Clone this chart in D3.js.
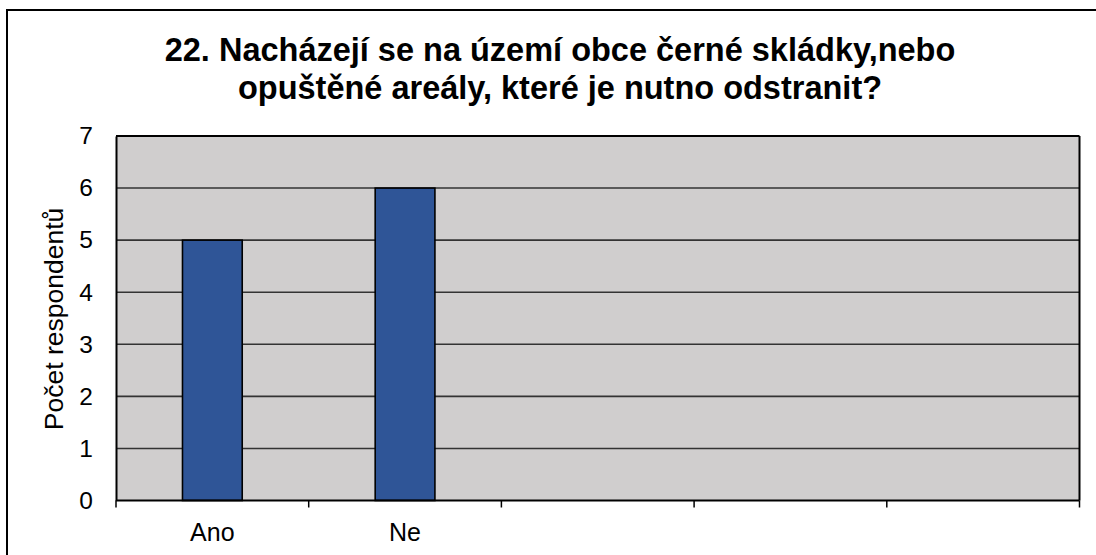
<!DOCTYPE html>
<html>
<head>
<meta charset="utf-8">
<script src="https://cdn.jsdelivr.net/npm/d3@7"></script>
<style>
  html, body { margin: 0; padding: 0; background: #fff; }
  svg { display: block; }
  text { font-family: "Liberation Sans", Arial, sans-serif; fill: #000; }
</style>
</head>
<body>
<svg id="chart" width="1096" height="555"></svg>
<script>
const categories = ["Ano", "Ne", "", "", ""];
const values = [5, 6, null, null, null];
const yTicks = [0, 1, 2, 3, 4, 5, 6, 7];
const titleLines = ["22. Nacházejí se na území obce černé skládky,nebo", "opuštěné areály, které je nutno odstranit?"];
const yTitle = "Počet respondentů";

const svg = d3.select("#chart");
const W = 1096, H = 555;
const m = { left: 116, right: 1079.5, top: 136, bottom: 500.5 };

// outer border
svg.append("rect").attr("x", 7).attr("y", 10).attr("width", W).attr("height", H)
  .attr("fill", "none").attr("stroke", "#000").attr("stroke-width", 2);

const x = d3.scaleBand().domain(d3.range(categories.length)).range([m.left, m.right]).paddingInner(0).paddingOuter(0);
const y = d3.scaleLinear().domain([0, 7]).range([m.bottom, m.top]);

// plot background
svg.append("rect").attr("x", m.left).attr("y", m.top)
  .attr("width", m.right - m.left).attr("height", m.bottom - m.top)
  .attr("fill", "#d0cece");

// gridlines
svg.append("g").selectAll("line").data(yTicks.filter(d => d > 0 && d < 7)).join("line")
  .attr("x1", m.left).attr("x2", m.right)
  .attr("y1", d => y(d)).attr("y2", d => y(d))
  .attr("stroke", "#333").attr("stroke-width", 1.6);

// bars
const bw = x.bandwidth() * 0.31;
svg.append("g").selectAll("rect").data(values.map((v, i) => ({ v, i })).filter(d => d.v != null)).join("rect")
  .attr("x", d => x(d.i) + x.bandwidth() / 2 - bw / 2)
  .attr("y", d => y(d.v))
  .attr("width", bw)
  .attr("height", d => y(0) - y(d.v))
  .attr("fill", "#2f5597").attr("stroke", "#000").attr("stroke-width", 1.6);

// plot border top & right
svg.append("line").attr("x1", m.left).attr("x2", m.right).attr("y1", m.top).attr("y2", m.top)
  .attr("stroke", "#000").attr("stroke-width", 2);
svg.append("line").attr("x1", m.right).attr("x2", m.right).attr("y1", m.top).attr("y2", m.bottom)
  .attr("stroke", "#000").attr("stroke-width", 2);

// y axis
const yAxis = d3.axisLeft(y).tickValues(yTicks).tickSize(0).tickPadding(23).tickFormat(d3.format("d"));
const gy = svg.append("g").attr("transform", `translate(${m.left},0)`).call(yAxis);
gy.select(".domain").attr("stroke", "#000").attr("stroke-width", 2);
gy.selectAll("text").attr("font-size", 24.5).attr("font-family", "Liberation Sans, Arial, sans-serif");

// x axis
const bounds = d3.range(categories.length + 1).map(i => m.left + i * x.bandwidth());
const gx = svg.append("g");
gx.append("line").attr("x1", m.left).attr("x2", m.right).attr("y1", m.bottom).attr("y2", m.bottom)
  .attr("stroke", "#000").attr("stroke-width", 2);
gx.selectAll("line.tick").data(bounds).join("line").attr("class", "tick")
  .attr("x1", d => d).attr("x2", d => d).attr("y1", m.bottom).attr("y2", m.bottom + 7)
  .attr("stroke", "#000").attr("stroke-width", 1.5);
gx.selectAll("text").data(categories.map((c, i) => ({ c, i })).filter(d => d.c)).join("text")
  .attr("x", d => x(d.i) + x.bandwidth() / 2).attr("y", 541)
  .attr("text-anchor", "middle").attr("font-size", 25).text(d => d.c);

// y title
svg.append("text").attr("transform", `translate(63,319) rotate(-90)`)
  .attr("text-anchor", "middle").attr("font-size", 26.5).text(yTitle);

// title
svg.append("g").selectAll("text").data(titleLines).join("text")
  .attr("x", 560).attr("y", (d, i) => 61 + i * 37.5)
  .attr("text-anchor", "middle").attr("font-size", 32.5).attr("font-weight", "bold").text(d => d);
</script>
</body>
</html>
